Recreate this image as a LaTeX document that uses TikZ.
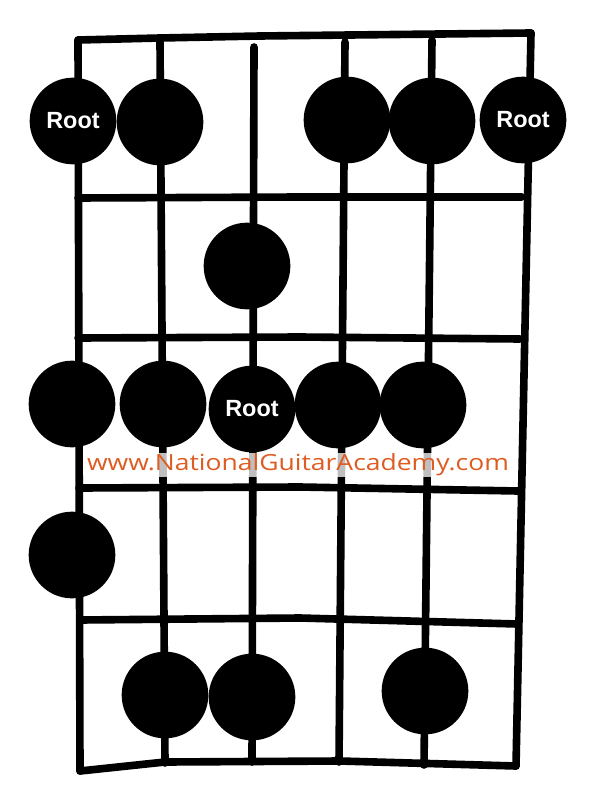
\documentclass[tikz,border=0pt]{standalone}
\usepackage{fontspec}
\usepackage{xcolor}
\usepackage{tikz}
\setmainfont{Liberation Sans}
\newfontfamily\markfont{Open Sans}
\definecolor{markorange}{RGB}{222,92,34}

\begin{document}
\begin{tikzpicture}[x=0.03cm, y=-0.03cm,
        fret/.style={line width=6.5pt, line cap=round, line join=round},
        note/.style={circle, fill=black, minimum size=2.6cm, inner sep=0pt, text=white, font=\bfseries\fontsize{20}{24}\selectfont}]
                \useasboundingbox (0,0) rectangle (600,794);
                % strings
                \coordinate (s1t) at (78,40);   \coordinate (s1b) at (80,771);
                \coordinate (s2t) at (160,42);  \coordinate (s2b) at (165,763);
                \coordinate (s3t) at (254,47);  \coordinate (s3b) at (252,762);
                \coordinate (s4t) at (345,42);  \coordinate (s4b) at (339,762);
                \coordinate (s5t) at (432,40);  \coordinate (s5b) at (424,765);
                \coordinate (s6t) at (531,33);  \coordinate (s6b) at (516,766);
                \draw[fret] (s1t) -- (s1b);
                \draw[fret] (s2t) -- (s2b);
                \draw[fret] (s3t) -- (s3b);
                \draw[fret] (s4t) -- (s4b);
                \draw[fret] (s5t) -- (s5b);
                \draw[fret] (s6t) -- (s6b);
                % frets
                \draw[fret] (s1t) -- (160,38) -- (260,36) -- (s6t);
                \draw[fret] (78,198) -- (300,197) -- (522,197);
                \draw[fret] (78,338) -- (300,337) -- (520,339);
                \draw[fret] (79,488) -- (300,487) -- (518,491);
                \draw[fret] (80,620) -- (300,618) -- (517,624);
                \draw[fret] (s1b) -- (165,762) -- (340,761) -- (s6b);
                % notes
                \node[note] at (73,121) (a1) {Root};
                \node[note] at (160,122) (a2) {};
                \node[note] at (347,120) (a4) {};
                \node[note] at (432,121) (a5) {};
                \node[note] at (523,120) (a6) {Root};
                \node[note] at (247,266) (b3) {};
                \node[note] at (72,404) (c1) {};
                \node[note] at (163,404) (c2) {};
                \node[note] at (252,409) (c3) {Root};
                \node[note] at (338,405) (c4) {};
                \node[note] at (423,405) (c5) {};
                \node[note] at (72,555) (d1) {};
                \node[note] at (165,695) (e2) {};
                \node[note] at (252,697) (e3) {};
                \node[note] at (425,691) (e5) {};
                % site mark
                \node[fill=white, fill opacity=0.75, text opacity=1, inner sep=1pt, text=markorange,
                      font=\markfont\fontsize{19}{21}\selectfont] at (298,465) (mark) {\scalebox{1.19}[1]{www.NationalGuitarAcademy.com}};
\end{tikzpicture}
\end{document}
